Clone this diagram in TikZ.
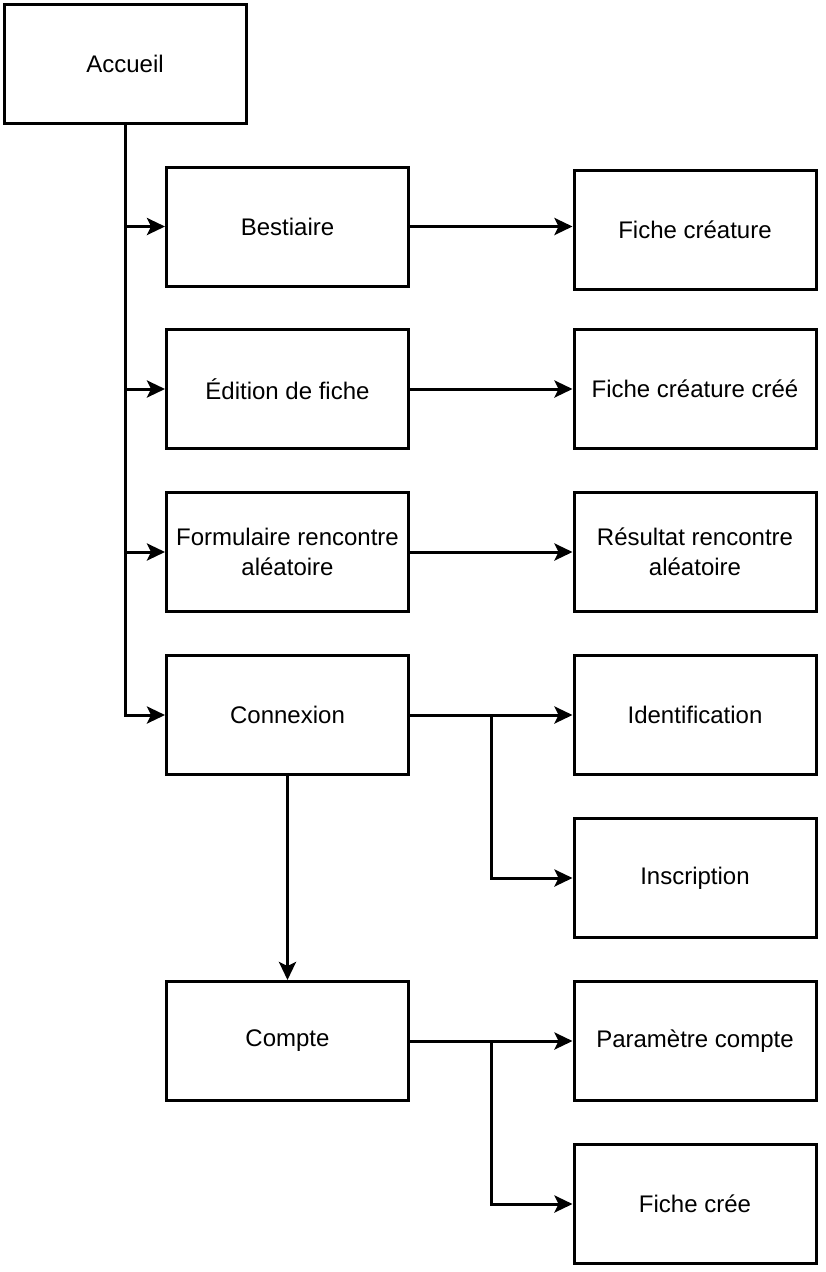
\documentclass[tikz,border=0pt]{standalone}
\usepackage{fontspec}
\setmainfont{Liberation Sans}
\usetikzlibrary{arrows.meta}
\tikzset{
	page/.style={draw, line width=3pt, minimum width=242pt, minimum height=119pt, inner sep=0pt, align=center, font=\fontsize{24}{30}\selectfont},
	link/.style={line width=3pt, -{Stealth[length=18pt, width=17pt, inset=4pt]}}
}

\begin{document}
\begin{tikzpicture}[x=1pt, y=-1pt]
			%%%%% START %%%%%
			\useasboundingbox (0, 0) rectangle (826, 1272);
			
			\node[page] (accueil) at (125, 64) {Accueil};
			
			\node[page] (bestiaire) at (287.5, 226.5) {Bestiaire};
			\node[page] (edition) at (287.5, 389) {Édition de fiche};
			\node[page] (formulaire) at (287.5, 552) {Formulaire rencontre\\aléatoire};
			\node[page] (connexion) at (287.5, 715) {Connexion};
			\node[page] (compte) at (287.5, 1041) {Compte};
			
			\node[page] (fichecreature) at (695, 229.5) {Fiche créature};
			\node[page] (fichecree) at (695, 389) {Fiche créature créé};
			\node[page] (resultat) at (695, 552) {Résultat rencontre\\aléatoire};
			\node[page] (identification) at (695, 715) {Identification};
			\node[page] (inscription) at (695, 878) {Inscription};
			\node[page] (parametre) at (695, 1041) {Paramètre compte};
			\node[page] (fiche) at (695, 1204) {Fiche crée};
			
			\coordinate (splitconnexion) at (491, 715);
			\coordinate (splitcompte) at (491, 1041);
			
			\draw[link] (accueil.south) |- (bestiaire.west);
			\draw[link] (accueil.south) |- (edition.west);
			\draw[link] (accueil.south) |- (formulaire.west);
			\draw[link] (accueil.south) |- (connexion.west);
			
			\draw[link] (bestiaire.east) -- (bestiaire.east -| fichecreature.west);
			\draw[link] (edition.east) -- (fichecree.west);
			\draw[link] (formulaire.east) -- (resultat.west);
			
			\draw[link] (connexion.east) -- (identification.west);
			\draw[link] (splitconnexion) |- (inscription.west);
			\draw[link] (connexion.south) -- (compte.north);
			
			\draw[link] (compte.east) -- (parametre.west);
			\draw[link] (splitcompte) |- (fiche.west);
			%%%%% END %%%%%
\end{tikzpicture}
\end{document}
